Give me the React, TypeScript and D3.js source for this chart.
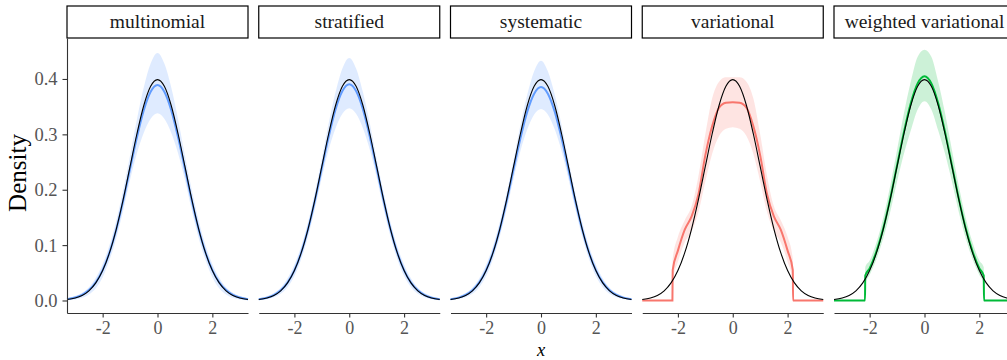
import React, { useEffect, useRef } from "react";
import * as d3 from "d3";

// grid shared by the resampling panels (x values)
const xGrid = [-3.3, -3, -2.75, -2.5, -2.25, -2, -1.75, -1.5, -1.25, -1, -0.75, -0.5, -0.25, 0, 0.25, 0.5, 0.75, 1, 1.25, 1.5, 1.75, 2, 2.25, 2.5, 2.75, 3, 3.3];

// true density (black line)
const trueDensity = [0.0017, 0.0044, 0.0091, 0.0175, 0.0317, 0.054, 0.0863, 0.1295, 0.1826, 0.242, 0.3011, 0.3521, 0.3867, 0.3989, 0.3867, 0.3521, 0.3011, 0.242, 0.1826, 0.1295, 0.0863, 0.054, 0.0317, 0.0175, 0.0091, 0.0044, 0.0017];

const multinomialMean = [0.0024, 0.0054, 0.0103, 0.0188, 0.0328, 0.0548, 0.0867, 0.1287, 0.1804, 0.2378, 0.2946, 0.3436, 0.3768, 0.389, 0.3768, 0.3436, 0.2946, 0.2378, 0.1804, 0.1287, 0.0867, 0.0548, 0.0328, 0.0188, 0.0103, 0.0054, 0.0024];
const multinomialLower = [0.0005, 0.002, 0.005, 0.011, 0.022, 0.042, 0.073, 0.113, 0.163, 0.218, 0.266, 0.303, 0.328, 0.338, 0.328, 0.303, 0.266, 0.218, 0.163, 0.113, 0.073, 0.042, 0.022, 0.011, 0.005, 0.002, 0.0005];
const multinomialUpper = [0.004, 0.008, 0.014, 0.024, 0.041, 0.066, 0.1, 0.145, 0.2, 0.262, 0.327, 0.385, 0.428, 0.447, 0.428, 0.385, 0.327, 0.262, 0.2, 0.145, 0.1, 0.066, 0.041, 0.024, 0.014, 0.008, 0.004];

const stratifiedMean = [0.0022, 0.005, 0.0098, 0.0183, 0.0323, 0.0545, 0.0866, 0.129, 0.181, 0.2386, 0.2957, 0.345, 0.3782, 0.3905, 0.3782, 0.345, 0.2957, 0.2386, 0.181, 0.129, 0.0866, 0.0545, 0.0323, 0.0183, 0.0098, 0.005, 0.0022];
const stratifiedLower = [0.0008, 0.0025, 0.006, 0.012, 0.024, 0.044, 0.075, 0.116, 0.166, 0.222, 0.272, 0.311, 0.337, 0.347, 0.337, 0.311, 0.272, 0.222, 0.166, 0.116, 0.075, 0.044, 0.024, 0.012, 0.006, 0.0025, 0.0008];
const stratifiedUpper = [0.0035, 0.0075, 0.0135, 0.023, 0.04, 0.065, 0.098, 0.142, 0.196, 0.256, 0.32, 0.376, 0.419, 0.438, 0.419, 0.376, 0.32, 0.256, 0.196, 0.142, 0.098, 0.065, 0.04, 0.023, 0.0135, 0.0075, 0.0035];

const systematicMean = [0.0023, 0.0052, 0.01, 0.0186, 0.0326, 0.0547, 0.0866, 0.1286, 0.18, 0.237, 0.293, 0.341, 0.3735, 0.3855, 0.3735, 0.341, 0.293, 0.237, 0.18, 0.1286, 0.0866, 0.0547, 0.0326, 0.0186, 0.01, 0.0052, 0.0023];
const systematicLower = [0.0008, 0.0025, 0.006, 0.012, 0.024, 0.044, 0.075, 0.116, 0.165, 0.22, 0.27, 0.309, 0.336, 0.346, 0.336, 0.309, 0.27, 0.22, 0.165, 0.116, 0.075, 0.044, 0.024, 0.012, 0.006, 0.0025, 0.0008];
const systematicUpper = [0.0035, 0.0075, 0.0135, 0.023, 0.04, 0.065, 0.098, 0.142, 0.195, 0.254, 0.317, 0.372, 0.414, 0.433, 0.414, 0.372, 0.317, 0.254, 0.195, 0.142, 0.098, 0.065, 0.04, 0.023, 0.0135, 0.0075, 0.0035];

// variational fits are truncated, so they have their own x grids with steps
const variationalX = [-3.3, -2.2, -2.19, -2, -1.75, -1.5, -1.25, -1, -0.75, -0.5, -0.25, 0, 0.25, 0.5, 0.75, 1, 1.25, 1.5, 1.75, 2, 2.19, 2.2, 3.3];
const variationalMean = [0, 0, 0.055, 0.09, 0.128, 0.152, 0.192, 0.262, 0.315, 0.348, 0.357, 0.358, 0.357, 0.348, 0.315, 0.262, 0.192, 0.152, 0.128, 0.09, 0.055, 0, 0];
const variationalLower = [0, 0, 0.035, 0.07, 0.105, 0.125, 0.16, 0.215, 0.265, 0.297, 0.31, 0.313, 0.31, 0.297, 0.265, 0.215, 0.16, 0.125, 0.105, 0.07, 0.035, 0, 0];
const variationalUpper = [0, 0, 0.075, 0.115, 0.145, 0.17, 0.225, 0.3, 0.365, 0.395, 0.403, 0.403, 0.403, 0.395, 0.365, 0.3, 0.225, 0.17, 0.145, 0.115, 0.075, 0, 0];

const weightedX = [-3.3, -2.17, -2.16, -2, -1.75, -1.5, -1.25, -1, -0.75, -0.5, -0.25, 0, 0.25, 0.5, 0.75, 1, 1.25, 1.5, 1.75, 2, 2.16, 2.17, 3.3];
const weightedMean = [0, 0, 0.045, 0.058, 0.089, 0.131, 0.184, 0.244, 0.304, 0.356, 0.392, 0.405, 0.392, 0.356, 0.304, 0.244, 0.184, 0.131, 0.089, 0.058, 0.045, 0, 0];
const weightedLower = [0, 0, 0.03, 0.046, 0.075, 0.113, 0.16, 0.215, 0.265, 0.307, 0.345, 0.36, 0.345, 0.307, 0.265, 0.215, 0.16, 0.113, 0.075, 0.046, 0.03, 0, 0];
const weightedUpper = [0, 0, 0.06, 0.072, 0.105, 0.15, 0.207, 0.272, 0.338, 0.395, 0.44, 0.453, 0.44, 0.395, 0.338, 0.272, 0.207, 0.15, 0.105, 0.072, 0.06, 0, 0];

const xTicks = [-2, 0, 2];
const yTicks = [0, 0.1, 0.2, 0.3, 0.4];

const panels = [
  { name: "multinomial", xs: xGrid, mean: multinomialMean, lower: multinomialLower, upper: multinomialUpper, color: "#619CFF" },
  { name: "stratified", xs: xGrid, mean: stratifiedMean, lower: stratifiedLower, upper: stratifiedUpper, color: "#619CFF" },
  { name: "systematic", xs: xGrid, mean: systematicMean, lower: systematicLower, upper: systematicUpper, color: "#619CFF" },
  { name: "variational", xs: variationalX, mean: variationalMean, lower: variationalLower, upper: variationalUpper, color: "#F8766D" },
  { name: "weighted variational", xs: weightedX, mean: weightedMean, lower: weightedLower, upper: weightedUpper, color: "#00BA38" },
];

export default function App() {
  const ref = useRef<SVGSVGElement>(null);
  const width = 1007;
  const height = 360;
  const margin = { left: 67, top: 38, bottom: 313 };
  const panelWidth = 181;
  const panelGap = 10.75;
  const font = "'Liberation Serif', 'Times New Roman', serif";

  useEffect(() => {
    const svg = d3.select(ref.current);
    svg.selectAll("*").remove();

    const y = d3.scaleLinear().domain([-0.0226, 0.474]).range([margin.bottom, margin.top]);

    panels.forEach((p, i) => {
      const x0 = margin.left + i * (panelWidth + panelGap);
      const x = d3.scaleLinear().domain([-3.3, 3.3]).range([x0, x0 + panelWidth]);
      const g = svg.append("g");

      const band = d3
        .area<number>()
        .x((d, j) => x(p.xs[j]))
        .y0((d, j) => y(p.lower[j]))
        .y1((d) => y(d))
        .curve(d3.curveMonotoneX);
      g.append("path").datum(p.upper).attr("d", band).attr("fill", p.color).attr("fill-opacity", 0.2);

      const meanLine = d3
        .line<number>()
        .x((d, j) => x(p.xs[j]))
        .y((d) => y(d))
        .curve(d3.curveMonotoneX);
      g.append("path").datum(p.mean).attr("d", meanLine).attr("fill", "none").attr("stroke", p.color).attr("stroke-width", 2);

      const trueLine = d3
        .line<number>()
        .x((d, j) => x(xGrid[j]))
        .y((d) => y(d))
        .curve(d3.curveMonotoneX);
      g.append("path").datum(trueDensity).attr("d", trueLine).attr("fill", "none").attr("stroke", "#000").attr("stroke-width", 1.1);

      // bottom axis
      const ax = g
        .append("g")
        .attr("transform", `translate(0,${margin.bottom})`)
        .call(
          d3.axisBottom(x).tickValues(xTicks).tickSize(4.5).tickSizeOuter(0).tickPadding(4).tickFormat((d) => String(d))
        );
      ax.select(".domain").attr("stroke", "#333").attr("stroke-width", 1.1);
      ax.selectAll(".tick line").attr("stroke", "#333").attr("stroke-width", 1.1);
      ax.selectAll(".tick text").attr("fill", "#555").attr("font-size", "18px").attr("font-family", font);

      // strip
      g.append("rect")
        .attr("x", x0)
        .attr("y", 6)
        .attr("width", panelWidth)
        .attr("height", 32)
        .attr("fill", "#fff")
        .attr("stroke", "#000")
        .attr("stroke-width", 1.2);
      g.append("text")
        .attr("x", x0 + panelWidth / 2)
        .attr("y", 28)
        .attr("text-anchor", "middle")
        .attr("fill", "#1a1a1a")
        .attr("font-size", "19.5px")
        .attr("font-family", font)
        .text(p.name);
    });

    // left axis on first panel only
    const ay = svg
      .append("g")
      .attr("transform", `translate(${margin.left},0)`)
      .call(d3.axisLeft(y).tickValues(yTicks).tickSize(4.5).tickSizeOuter(0).tickPadding(5).tickFormat(d3.format(".1f")));
    ay.select(".domain").attr("stroke", "#333").attr("stroke-width", 1.1);
    ay.selectAll(".tick line").attr("stroke", "#333").attr("stroke-width", 1.1);
    ay.selectAll(".tick text").attr("fill", "#555").attr("font-size", "18.5px").attr("font-family", font);

    svg.append("text")
      .attr("transform", `translate(25.5,173) rotate(-90)`)
      .attr("text-anchor", "middle")
      .attr("fill", "#000")
      .attr("font-size", "25px")
      .attr("font-family", font)
      .text("Density");

    svg.append("text")
      .attr("x", 541)
      .attr("y", 356)
      .attr("text-anchor", "middle")
      .attr("fill", "#000")
      .attr("font-size", "18.5px")
      .attr("font-style", "italic")
      .attr("font-family", font)
      .text("x");
  }, []);

  return (
    <svg
      ref={ref}
      width={width}
      height={height}
      style={{ position: "absolute", left: 0, top: 0, background: "#fff" }}
    ></svg>
  );
}
